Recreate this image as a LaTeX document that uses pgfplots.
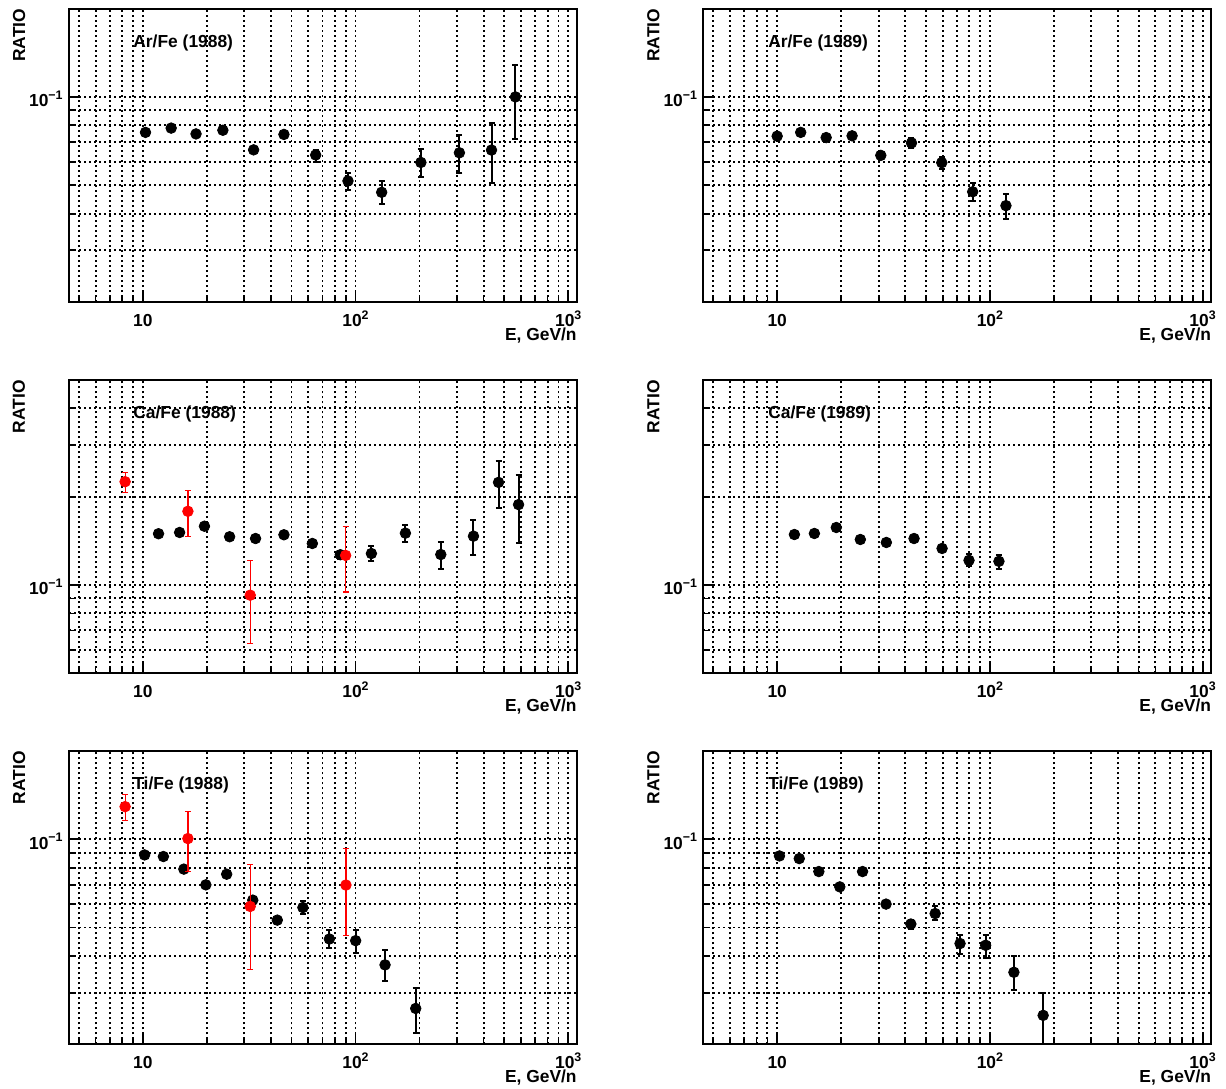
\documentclass[border=0pt]{standalone}
\usepackage{fontspec}
\setmainfont{Liberation Sans}
\usepackage{pgfplots}
\pgfplotsset{compat=1.18}
\newcommand\lbl{\fontsize{8.7}{10}\selectfont\bfseries}
\newcommand\sups[1]{\raisebox{0.42em}{\fontsize{6.2}{6}\selectfont\bfseries #1}}
\pgfplotsset{
  every axis/.append style={
    scale only axis, width=254pt, height=146.7pt,
    xmin=4.5, xmax=1100, anchor=south west,
    xtick={10,100,1000}, xticklabels={10,10\sups{2},10\sups{3}},
    minor xtick={5,6,7,8,9,20,30,40,50,60,70,80,90,200,300,400,500,600,700,800,900},
    ytick={0.1}, yticklabels={10\sups{−1}},
    grid=both,
    major grid style={black, line width=0.95pt, dash pattern=on 0.95pt off 1.55pt},
    minor grid style={black, line width=0.95pt, dash pattern=on 0.95pt off 1.55pt},
    tick pos=left, tick align=inside,
    major tick length=5.5pt, minor tick length=2.5pt,
    tick style={black, line width=0.9pt},
    axis line style={line width=1pt},
    ticklabel style={font=\lbl},
    xticklabel style={anchor=base, inner sep=0pt, yshift=-12.3pt},
    yticklabel style={anchor=base east, inner sep=0pt, xshift=-3pt, yshift=-5pt},
    clip mode=individual,
  },
}
\tikzset{
  ttl/.style={anchor=base west, inner sep=0pt, font=\lbl},
  ratio/.style={anchor=base east, inner sep=0pt, xshift=-22pt, rotate=90, font=\lbl},
  elab/.style={anchor=base east, inner sep=0pt, yshift=-19pt, font=\lbl},
}
\begin{document}
\begin{tikzpicture}
\useasboundingbox (0,0) rectangle (613pt,544pt);
% ---------- Ar/Fe 1988 ----------
\begin{loglogaxis}[ymin=0.02, ymax=0.2, minor ytick={0.03,0.04,0.05,0.06,0.07,0.08,0.09}, at={(34.5pt,393pt)}]
\addplot[black, only marks, mark=*, mark size=2.65pt,
  error bars/.cd, y dir=both, y explicit,
  error bar style={line width=1pt, black},
  error mark options={rotate=90, mark size=1.5pt, line width=1pt, black}] coordinates {
 (10.3,0.0757) +- (0,0.0015)
 (13.6,0.0783) +- (0,0.0015)
 (17.8,0.0748) +- (0,0.0015)
 (23.8,0.0770) +- (0,0.0015)
 (33.2,0.0660) +- (0,0.0015)
 (46.1,0.0745) +- (0,0.0015)
 (65.0,0.0634) += (0,0.0026) -= (0,0.0034)
 (92.2,0.0517) += (0,0.0035) -= (0,0.0036)
 (132.8,0.0473) += (0,0.0044) -= (0,0.0042)
 (203,0.0598) += (0,0.0066) -= (0,0.0063)
 (308,0.0645) += (0,0.0096) -= (0,0.0096)
 (436,0.0659) += (0,0.0153) -= (0,0.0151)
 (565,0.100) += (0,0.028) -= (0,0.0282)
};
\node[ttl] at (rel axis cs:0.126,0.867) {Ar/Fe (1988)};
\node[ratio] at (rel axis cs:0,1) {RATIO};
\node[elab] at (rel axis cs:1,0) {E, GeV/n};
\end{loglogaxis}
% ---------- Ar/Fe 1989 ----------
\begin{loglogaxis}[ymin=0.02, ymax=0.2, minor ytick={0.03,0.04,0.05,0.06,0.07,0.08,0.09}, at={(351.7pt,393pt)}]
\addplot[black, only marks, mark=*, mark size=2.65pt,
  error bars/.cd, y dir=both, y explicit,
  error bar style={line width=1pt, black},
  error mark options={rotate=90, mark size=1.5pt, line width=1pt, black}] coordinates {
 (10.0,0.0735) +- (0,0.0015)
 (12.9,0.0757) +- (0,0.0015)
 (17.0,0.0727) +- (0,0.0015)
 (22.5,0.0737) +- (0,0.0015)
 (30.7,0.0632) +- (0,0.0015)
 (42.8,0.0697) +- (0,0.0025)
 (59.4,0.0597) += (0,0.0028) -= (0,0.0031)
 (83.0,0.0475) += (0,0.0035) -= (0,0.0033)
 (119,0.0426) += (0,0.0042) -= (0,0.0043)
};
\node[ttl] at (rel axis cs:0.127,0.867) {Ar/Fe (1989)};
\node[ratio] at (rel axis cs:0,1) {RATIO};
\node[elab] at (rel axis cs:1,0) {E, GeV/n};
\end{loglogaxis}
% ---------- Ca/Fe 1988 ----------
\begin{loglogaxis}[ymin=0.05, ymax=0.5, minor ytick={0.06,0.07,0.08,0.09,0.2,0.3,0.4}, at={(34.5pt,207.35pt)}]
\addplot[black, only marks, mark=*, mark size=2.65pt,
  error bars/.cd, y dir=both, y explicit,
  error bar style={line width=1pt, black},
  error mark options={rotate=90, mark size=1.5pt, line width=1pt, black}] coordinates {
 (11.86,0.1495) +- (0,0.002)
 (14.9,0.151) +- (0,0.002)
 (19.5,0.1586) +- (0,0.002)
 (25.6,0.146) +- (0,0.002)
 (33.9,0.144) +- (0,0.002)
 (46.1,0.1483) +- (0,0.002)
 (62.7,0.1385) +- (0,0.003)
 (84.9,0.1268) +- (0,0.004)
 (118.8,0.128) += (0,0.0076) -= (0,0.0074)
 (171.7,0.1502) += (0,0.0105) -= (0,0.0106)
 (251.8,0.127) += (0,0.0126) -= (0,0.0133)
 (358.7,0.1467) += (0,0.0195) -= (0,0.0199)
 (470.4,0.2237) += (0,0.0399) -= (0,0.0406)
 (584.3,0.1879) += (0,0.0497) -= (0,0.0494)
};
\addplot[red, only marks, mark=*, mark size=2.65pt,
  error bars/.cd, y dir=both, y explicit,
  error bar style={line width=0.6pt, red},
  error mark options={rotate=90, mark size=1.5pt, line width=0.6pt, red}] coordinates {
 (8.26,0.2249) += (0,0.0171) -= (0,0.018)
 (16.3,0.1783) += (0,0.0314) -= (0,0.0323)
 (32.0,0.0923) += (0,0.029) -= (0,0.029)
 (89.9,0.1261) += (0,0.0325) -= (0,0.0314)
};
\node[ttl] at (rel axis cs:0.126,0.867) {Ca/Fe (1988)};
\node[ratio] at (rel axis cs:0,1) {RATIO};
\node[elab] at (rel axis cs:1,0) {E, GeV/n};
\end{loglogaxis}
% ---------- Ca/Fe 1989 ----------
\begin{loglogaxis}[ymin=0.05, ymax=0.5, minor ytick={0.06,0.07,0.08,0.09,0.2,0.3,0.4}, at={(351.7pt,207.35pt)}]
\addplot[black, only marks, mark=*, mark size=2.65pt,
  error bars/.cd, y dir=both, y explicit,
  error bar style={line width=1pt, black},
  error mark options={rotate=90, mark size=1.5pt, line width=1pt, black}] coordinates {
 (12.05,0.1486) +- (0,0.002)
 (14.96,0.1498) +- (0,0.002)
 (18.97,0.157) +- (0,0.002)
 (24.6,0.1429) +- (0,0.002)
 (32.6,0.1396) +- (0,0.002)
 (44.0,0.144) +- (0,0.002)
 (59.6,0.1332) +- (0,0.003)
 (79.8,0.1213) += (0,0.0058) -= (0,0.0053)
 (110.3,0.1204) += (0,0.0066) -= (0,0.0074)
};
\node[ttl] at (rel axis cs:0.127,0.867) {Ca/Fe (1989)};
\node[ratio] at (rel axis cs:0,1) {RATIO};
\node[elab] at (rel axis cs:1,0) {E, GeV/n};
\end{loglogaxis}
% ---------- Ti/Fe 1988 ----------
\begin{loglogaxis}[ymin=0.02, ymax=0.2, minor ytick={0.03,0.04,0.05,0.06,0.07,0.08,0.09}, at={(34.5pt,21.85pt)}]
\addplot[black, only marks, mark=*, mark size=2.65pt,
  error bars/.cd, y dir=both, y explicit,
  error bar style={line width=1pt, black},
  error mark options={rotate=90, mark size=1.5pt, line width=1pt, black}] coordinates {
 (10.2,0.0884) +- (0,0.0015)
 (12.5,0.0873) +- (0,0.0015)
 (15.6,0.0791) +- (0,0.0015)
 (19.8,0.0699) +- (0,0.0015)
 (24.8,0.0760) +- (0,0.0015)
 (32.9,0.0620) +- (0,0.0015)
 (42.9,0.0530) +- (0,0.0015)
 (56.6,0.0585) += (0,0.0029) -= (0,0.0028)
 (75.4,0.0457) += (0,0.0034) -= (0,0.0031)
 (100.2,0.0451) += (0,0.0038) -= (0,0.0040)
 (137.7,0.0373) += (0,0.0045) -= (0,0.0045)
 (192,0.0265) += (0,0.0046) -= (0,0.0047)
};
\addplot[red, only marks, mark=*, mark size=2.65pt,
  error bars/.cd, y dir=both, y explicit,
  error bar style={line width=0.6pt, red},
  error mark options={rotate=90, mark size=1.5pt, line width=0.6pt, red}] coordinates {
 (8.26,0.1291) += (0,0.0131) -= (0,0.0131)
 (16.3,0.1005) += (0,0.0236) -= (0,0.0229)
 (32.0,0.0590) += (0,0.0228) -= (0,0.0231)
 (90.2,0.0698) += (0,0.0229) -= (0,0.0229)
};
\node[ttl] at (rel axis cs:0.126,0.867) {Ti/Fe (1988)};
\node[ratio] at (rel axis cs:0,1) {RATIO};
\node[elab] at (rel axis cs:1,0) {E, GeV/n};
\end{loglogaxis}
% ---------- Ti/Fe 1989 ----------
\begin{loglogaxis}[ymin=0.02, ymax=0.2, minor ytick={0.03,0.04,0.05,0.06,0.07,0.08,0.09}, at={(351.7pt,21.85pt)}]
\addplot[black, only marks, mark=*, mark size=2.65pt,
  error bars/.cd, y dir=both, y explicit,
  error bar style={line width=1pt, black},
  error mark options={rotate=90, mark size=1.5pt, line width=1pt, black}] coordinates {
 (10.25,0.0877) +- (0,0.0015)
 (12.7,0.0859) +- (0,0.0015)
 (15.7,0.0776) +- (0,0.0015)
 (19.7,0.0688) +- (0,0.0015)
 (25.2,0.0776) +- (0,0.0015)
 (32.5,0.0601) +- (0,0.0015)
 (42.5,0.0514) +- (0,0.0018)
 (55.3,0.0558) += (0,0.0032) -= (0,0.0026)
 (72.4,0.0441) += (0,0.0032) -= (0,0.0035)
 (95.5,0.0435) += (0,0.0038) -= (0,0.0041)
 (129.7,0.0352) += (0,0.0047) -= (0,0.0046)
 (178,0.0251) += (0,0.0047) -= (0,0.0056)
};
\node[ttl] at (rel axis cs:0.127,0.867) {Ti/Fe (1989)};
\node[ratio] at (rel axis cs:0,1) {RATIO};
\node[elab] at (rel axis cs:1,0) {E, GeV/n};
\end{loglogaxis}
\end{tikzpicture}
\end{document}
